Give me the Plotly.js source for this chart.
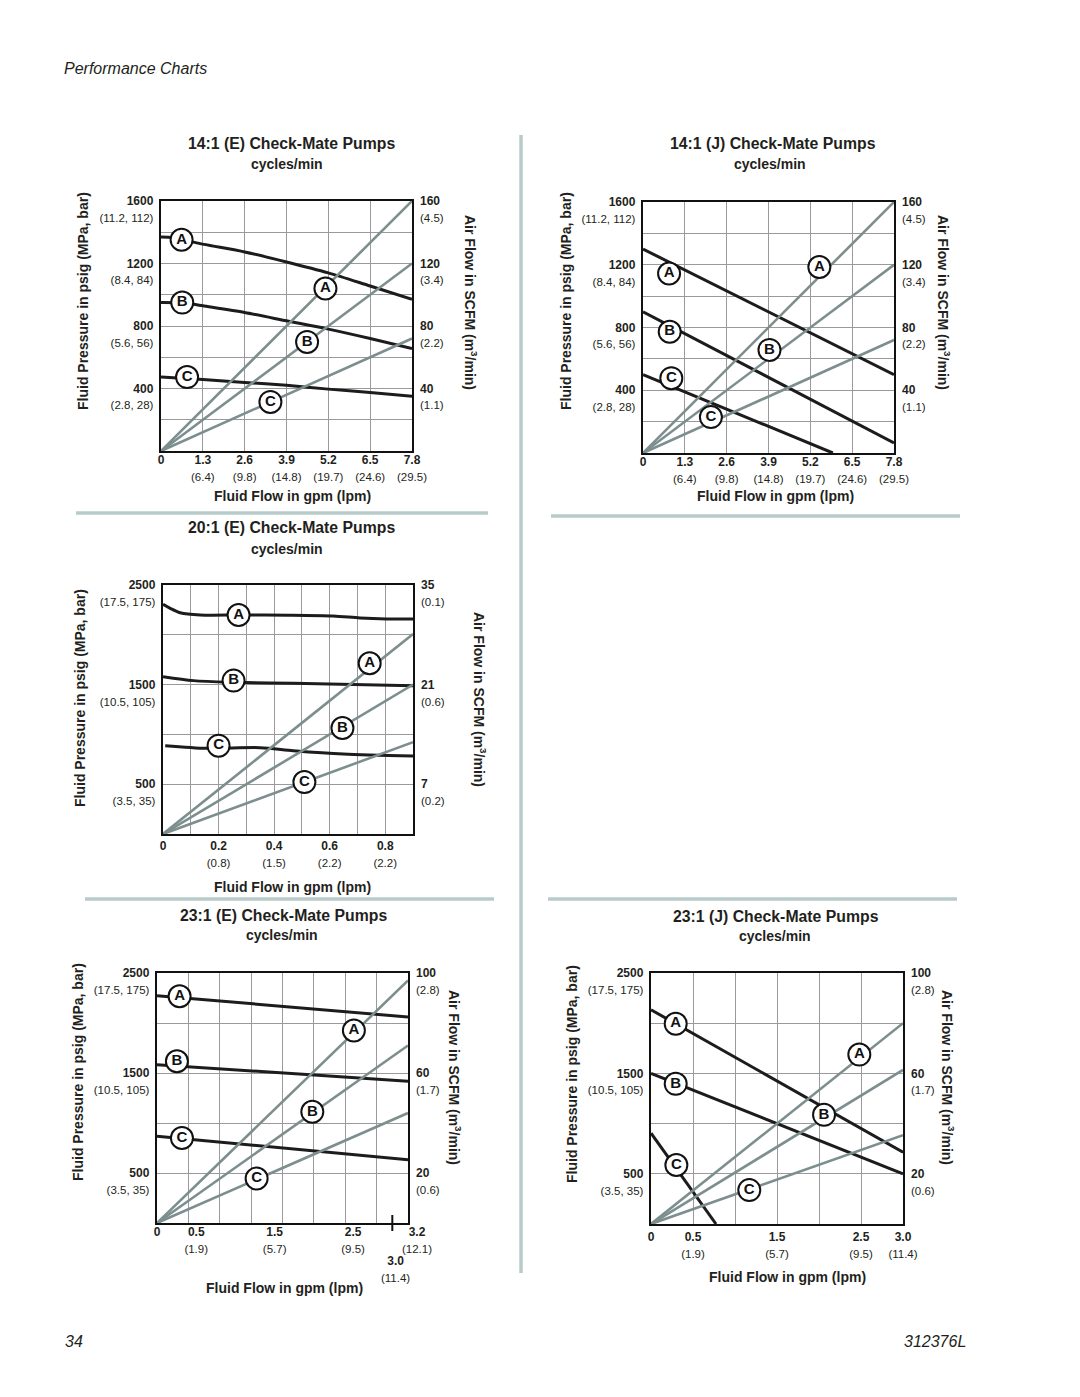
<!DOCTYPE html>
<html><head><meta charset="utf-8">
<script src="https://cdn.plot.ly/plotly-3.0.1.min.js"></script>
<style>html,body{margin:0;padding:0;background:#fff;}#chart{width:1080px;height:1397px;}</style>
</head><body><div id="chart"></div>
<script>
const W = 1080, H = 1397;
const FONT = '"Liberation Sans", Arial, Helvetica, sans-serif';
const INK = '#231f20';
const CURVE_COLOR = '#1c1c1c';
const AIR_COLOR = '#7d8e8e';
const GRID_COLOR = '#9a9a9a';
const DIVIDER = '#b8cbcb';
const LETTERS = ['A', 'B', 'C'];
const CYCLE_TICKS = [0, 30, 60];
const CYCLE_TEXT = ['0', '30', '60'];

// ===== Chart 1: 14:1 (E) =====
const e14_gpmTicks = [0, 1.3, 2.6, 3.9, 5.2, 6.5, 7.8];
const e14_gpmText = ['0', '1.3', '2.6', '3.9', '5.2', '6.5', '7.8'];
const e14_lpmText = ['', '(6.4)', '(9.8)', '(14.8)', '(19.7)', '(24.6)', '(29.5)'];
const e14_gpmGrid = [1.3, 2.6, 3.9, 5.2, 6.5];
const e14_psiTicks = [400, 800, 1200, 1600];
const e14_psiText = ['400', '800', '1200', '1600'];
const e14_psiMetric = ['(2.8, 28)', '(5.6, 56)', '(8.4, 84)', '(11.2, 112)'];
const e14_psiGrid = [200, 400, 600, 800, 1000, 1200, 1400];
const e14_airTicks = [40, 80, 120, 160];
const e14_airText = ['40', '80', '120', '160'];
const e14_airMetric = ['(1.1)', '(2.2)', '(3.4)', '(4.5)'];
const e14_A_gpm = [0, 0.65, 1.0, 2.6, 3.9, 5.2, 6.5, 7.8];
const e14_A_psi = [1370, 1360, 1337, 1274, 1210, 1140, 1056, 971];
const e14_B_gpm = [0, 0.65, 1.0, 1.3, 2.6, 3.9, 5.2, 6.5, 7.8];
const e14_B_psi = [950, 948, 939, 929, 886, 833, 780, 720, 656];
const e14_C_gpm = [0, 1.3, 2.6, 3.9, 5.2, 6.5, 7.8];
const e14_C_psi = [473, 458, 439, 420, 396, 375, 351];
const e14_air_gpm = [0, 7.8];
const e14_airA = [0, 160];
const e14_airB = [0, 120];
const e14_airC = [0, 72];
const e14_curveLbl_gpm = [0.64, 0.66, 0.81];
const e14_curveLbl_psi = [1352, 950, 473];
const e14_airLbl_gpm = [5.11, 4.54, 3.40];
const e14_airLbl_scfm = [104, 69.8, 31.4];

// ===== Chart 2: 14:1 (J) =====
const j14_A_gpm = [0, 7.8];
const j14_A_psi = [1300, 500];
const j14_B_gpm = [0, 7.8];
const j14_B_psi = [900, 64];
const j14_C_gpm = [0, 5.9];
const j14_C_psi = [500, 0];
const j14_air_gpm = [0, 7.8];
const j14_airA = [0, 160];
const j14_airB = [0, 120];
const j14_airC = [0, 72];
const j14_curveLbl_gpm = [0.81, 0.83, 0.88];
const j14_curveLbl_psi = [1144, 773, 477];
const j14_airLbl_gpm = [5.48, 3.93, 2.11];
const j14_airLbl_scfm = [118.6, 65.7, 22.9];

// ===== Chart 3: 20:1 (E) =====
const e20_gpmTicks = [0, 0.2, 0.4, 0.6, 0.8];
const e20_gpmText = ['0', '0.2', '0.4', '0.6', '0.8'];
const e20_lpmText = ['', '(0.8)', '(1.5)', '(2.2)', '(2.2)'];
const e20_gpmGrid = [0.1, 0.2, 0.3, 0.4, 0.5, 0.6, 0.7, 0.8];
const e20_psiTicks = [500, 1500, 2500];
const e20_psiText = ['500', '1500', '2500'];
const e20_psiMetric = ['(3.5, 35)', '(10.5, 105)', '(17.5, 175)'];
const e20_psiGrid = [500, 1000, 1500, 2000];
const e20_airTicks = [7, 21, 35];
const e20_airText = ['7', '21', '35'];
const e20_airMetric = ['(0.2)', '(0.6)', '(0.1)'];
const e20_A_gpm = [0, 0.026, 0.062, 0.134, 0.278, 0.45, 0.613, 0.709, 0.804, 0.9];
const e20_A_psi = [2306, 2266, 2222, 2199, 2199, 2197, 2189, 2169, 2159, 2159];
const e20_B_gpm = [0, 0.11, 0.254, 0.469, 0.9];
const e20_B_psi = [1580, 1540, 1523, 1513, 1489];
const e20_C_gpm = [0.008, 0.158, 0.349, 0.469, 0.649, 0.9];
const e20_C_psi = [887, 860, 867, 837, 803, 783];
const e20_air_gpm = [0, 0.9];
const e20_airA = [0, 28.1];
const e20_airB = [0, 21];
const e20_airC = [0, 12.9];
const e20_curveLbl_gpm = [0.272, 0.254, 0.2];
const e20_curveLbl_psi = [2199, 1540, 887];
const e20_airLbl_gpm = [0.744, 0.646, 0.509];
const e20_airLbl_scfm = [24.0, 14.9, 7.3];

// ===== Chart 4: 23:1 (E) =====
const e23_gpmTicks = [0, 0.5, 1.5, 2.5];
const e23_gpmText = ['0', '0.5', '1.5', '2.5'];
const e23_lpmText = ['', '(1.9)', '(5.7)', '(9.5)'];
const e23_gpmGrid = [0.4, 0.8, 1.2, 1.6, 2.0, 2.4, 2.8];
const e23_endTick = 3.2;
const e23_endText = '3.2';
const e23_endMetric = '(12.1)';
const e23_extraTick = 3.0;
const e23_extraText = '3.0';
const e23_extraMetric = '(11.4)';
const e23_psiTicks = [500, 1500, 2500];
const e23_psiText = ['500', '1500', '2500'];
const e23_psiMetric = ['(3.5, 35)', '(10.5, 105)', '(17.5, 175)'];
const e23_psiGrid = [500, 1000, 1500, 2000];
const e23_airTicks = [20, 60, 100];
const e23_airText = ['20', '60', '100'];
const e23_airMetric = ['(0.6)', '(1.7)', '(2.8)'];
const e23_A_gpm = [0, 3.2];
const e23_A_psi = [2273, 2060];
const e23_B_gpm = [0, 3.2];
const e23_B_psi = [1583, 1417];
const e23_C_gpm = [0, 3.2];
const e23_C_psi = [867, 633];
const e23_air_gpm = [0, 3.2];
const e23_airA = [0, 97];
const e23_airB = [0, 71];
const e23_airC = [0, 44];
const e23_curveLbl_gpm = [0.288, 0.254, 0.318];
const e23_curveLbl_psi = [2267, 1617, 850];
const e23_airLbl_gpm = [2.51, 1.98, 1.27];
const e23_airLbl_scfm = [77, 44.5, 17.8];

// ===== Chart 5: 23:1 (J) =====
const j23_gpmTicks = [0, 0.5, 1.5, 2.5, 3.0];
const j23_gpmText = ['0', '0.5', '1.5', '2.5', '3.0'];
const j23_lpmText = ['', '(1.9)', '(5.7)', '(9.5)', '(11.4)'];
const j23_gpmGrid = [0.5, 1.0, 1.5, 2.0, 2.5];
const j23_A_gpm = [0, 3.0];
const j23_A_psi = [2134, 715];
const j23_B_gpm = [0, 3.0];
const j23_B_psi = [1500, 500];
const j23_C_gpm = [0, 0.774];
const j23_C_psi = [904, 0];
const j23_air_gpm = [0, 3.0];
const j23_airA = [0, 80];
const j23_airB = [0, 61.4];
const j23_airC = [0, 35.4];
const j23_curveLbl_gpm = [0.294, 0.294, 0.302];
const j23_curveLbl_psi = [1995, 1396, 588];
const j23_airLbl_gpm = [2.48, 2.06, 1.17];
const j23_airLbl_scfm = [67.5, 43.5, 13.5];

// ===== chart assembly =====
const charts = [
  { title: '14:1 (E) Check-Mate Pumps', box: [161, 201, 412, 451], xRange: [0, 7.8], yRange: [0, 1600], rRange: [0, 160], xStand: -5,
    xT: e14_gpmTicks, xTx: e14_gpmText, xM: e14_lpmText, xG: e14_gpmGrid,
    yT: e14_psiTicks, yTx: e14_psiText, yM: e14_psiMetric, yG: e14_psiGrid,
    rT: e14_airTicks, rTx: e14_airText, rM: e14_airMetric,
    curves: [[e14_A_gpm, e14_A_psi], [e14_B_gpm, e14_B_psi], [e14_C_gpm, e14_C_psi]], shape: 'spline',
    airs: [[e14_air_gpm, e14_airA], [e14_air_gpm, e14_airB], [e14_air_gpm, e14_airC]],
    cl: [e14_curveLbl_gpm, e14_curveLbl_psi], al: [e14_airLbl_gpm, e14_airLbl_scfm],
    pos: { title: [291, 143], cyc: [287, 164], left: [83, 301], right: [471, 302], bottom: [292, 496] } },
  { title: '14:1 (J) Check-Mate Pumps', box: [643, 202, 894, 453], xRange: [0, 7.8], yRange: [0, 1600], rRange: [0, 160], xStand: -5,
    xT: e14_gpmTicks, xTx: e14_gpmText, xM: e14_lpmText, xG: e14_gpmGrid,
    yT: e14_psiTicks, yTx: e14_psiText, yM: e14_psiMetric, yG: e14_psiGrid,
    rT: e14_airTicks, rTx: e14_airText, rM: e14_airMetric,
    curves: [[j14_A_gpm, j14_A_psi], [j14_B_gpm, j14_B_psi], [j14_C_gpm, j14_C_psi]], shape: 'linear',
    airs: [[j14_air_gpm, j14_airA], [j14_air_gpm, j14_airB], [j14_air_gpm, j14_airC]],
    cl: [j14_curveLbl_gpm, j14_curveLbl_psi], al: [j14_airLbl_gpm, j14_airLbl_scfm],
    pos: { title: [773, 143], cyc: [770, 164], left: [566, 301], right: [944, 302], bottom: [775, 496] } },
  { title: '20:1 (E) Check-Mate Pumps', box: [163, 585, 413, 834], xRange: [0, 0.9], yRange: [0, 2500], rRange: [0, 35], xStand: -2,
    xT: e20_gpmTicks, xTx: e20_gpmText, xM: e20_lpmText, xG: e20_gpmGrid,
    yT: e20_psiTicks, yTx: e20_psiText, yM: e20_psiMetric, yG: e20_psiGrid,
    rT: e20_airTicks, rTx: e20_airText, rM: e20_airMetric,
    curves: [[e20_A_gpm, e20_A_psi], [e20_B_gpm, e20_B_psi], [e20_C_gpm, e20_C_psi]], shape: 'spline',
    airs: [[e20_air_gpm, e20_airA], [e20_air_gpm, e20_airB], [e20_air_gpm, e20_airC]],
    cl: [e20_curveLbl_gpm, e20_curveLbl_psi], al: [e20_airLbl_gpm, e20_airLbl_scfm],
    pos: { title: [291, 527], cyc: [287, 549], left: [80, 698], right: [480, 699], bottom: [292, 887] } },
  { title: '23:1 (E) Check-Mate Pumps', box: [157, 973, 408, 1223], xRange: [0, 3.2], yRange: [0, 2500], rRange: [0, 100], xStand: -5,
    xT: e23_gpmTicks, xTx: e23_gpmText, xM: e23_lpmText, xG: e23_gpmGrid,
    yT: e23_psiTicks, yTx: e23_psiText, yM: e23_psiMetric, yG: e23_psiGrid,
    rT: e23_airTicks, rTx: e23_airText, rM: e23_airMetric,
    curves: [[e23_A_gpm, e23_A_psi], [e23_B_gpm, e23_B_psi], [e23_C_gpm, e23_C_psi]], shape: 'linear',
    airs: [[e23_air_gpm, e23_airA], [e23_air_gpm, e23_airB], [e23_air_gpm, e23_airC]],
    cl: [e23_curveLbl_gpm, e23_curveLbl_psi], al: [e23_airLbl_gpm, e23_airLbl_scfm],
    pos: { title: [283, 915], cyc: [282, 935], left: [78, 1072], right: [455, 1077], bottom: [284, 1288] } },
  { title: '23:1 (J) Check-Mate Pumps', box: [651, 973, 903, 1224], xRange: [0, 3.0], yRange: [0, 2500], rRange: [0, 100], xStand: -1,
    xT: j23_gpmTicks, xTx: j23_gpmText, xM: j23_lpmText, xG: j23_gpmGrid,
    yT: e23_psiTicks, yTx: e23_psiText, yM: e23_psiMetric, yG: e23_psiGrid,
    rT: e23_airTicks, rTx: e23_airText, rM: e23_airMetric,
    curves: [[j23_A_gpm, j23_A_psi], [j23_B_gpm, j23_B_psi], [j23_C_gpm, j23_C_psi]], shape: 'linear',
    airs: [[j23_air_gpm, j23_airA], [j23_air_gpm, j23_airB], [j23_air_gpm, j23_airC]],
    cl: [j23_curveLbl_gpm, j23_curveLbl_psi], al: [j23_airLbl_gpm, j23_airLbl_scfm],
    pos: { title: [776, 916], cyc: [775, 936], left: [572, 1074], right: [948, 1077], bottom: [787, 1277] } }
];

const px = v => v / W;
const py = v => 1 - v / H;
const axKey = (p, i) => p + 'axis' + (i === 1 ? '' : i);
const axRef = (p, i) => p + (i === 1 ? '' : i);
const twoLine = (a, b) => '<span style="font-size:12px"><b>' + a + '</b></span>' +
  (b ? '<br><span style="font-size:11.5px">' + b + '</span>' : '');
const tickFont = { family: FONT, size: 13, color: INK };

const traces = [];
const annotations = [];
const shapes = [];
const layout = {
  width: W, height: H, margin: { l: 0, r: 0, t: 0, b: 0 }, autosize: false,
  paper_bgcolor: '#fff', plot_bgcolor: 'rgba(0,0,0,0)', showlegend: false, hovermode: false,
  font: { family: FONT, color: INK }
};

function note(text, x, y, size, extra) {
  annotations.push(Object.assign({ text: text, xref: 'paper', yref: 'paper', x: px(x), y: py(y),
    xanchor: 'center', yanchor: 'middle', showarrow: false, font: { family: FONT, size: size, color: INK } }, extra || {}));
}

charts.forEach((c, k) => {
  const bi = 2 * k + 1, ti = 2 * k + 2;
  const xb = axRef('x', bi), yl = axRef('y', bi), yr = axRef('y', ti);
  const [l, t, r, b] = c.box;
  const xd = [px(l), px(r)], yd = [py(b), py(t)];
  const common = { fixedrange: true, zeroline: false, ticks: '', tickfont: tickFont, tickmode: 'array' };
  layout[axKey('x', bi)] = Object.assign({}, common, {
    domain: xd, anchor: yl, range: c.xRange, showline: true, mirror: true, linecolor: '#111', linewidth: 2,
    showgrid: false, tickvals: c.xT, ticktext: c.xT.map((v, i) => twoLine(c.xTx[i], c.xM[i])), ticklabelstandoff: c.xStand,
    minor: { tickmode: 'array', tickvals: c.xG, showgrid: true, gridcolor: GRID_COLOR, gridwidth: 1, ticks: '' }
  });
  layout[axKey('x', ti)] = Object.assign({}, common, {
    domain: xd, anchor: yl, overlaying: xb, side: 'top', range: [0, 60], showline: false, showgrid: false,
    tickvals: CYCLE_TICKS, ticktext: CYCLE_TEXT.map(s => '<b>' + s + '</b>'), ticklabelstandoff: 5,
    tickfont: { family: FONT, size: 12, color: INK }
  });
  layout[axKey('y', bi)] = Object.assign({}, common, {
    domain: yd, anchor: xb, range: c.yRange, showline: true, mirror: true, linecolor: '#111', linewidth: 2,
    showgrid: false, tickvals: c.yT, ticktext: c.yT.map((v, i) => twoLine(c.yTx[i], c.yM[i])),
    ticklabelshift: 8, ticklabelstandoff: 3,
    minor: { tickmode: 'array', tickvals: c.yG, showgrid: true, gridcolor: GRID_COLOR, gridwidth: 1, ticks: '' }
  });
  layout[axKey('y', ti)] = Object.assign({}, common, {
    domain: yd, anchor: xb, overlaying: yl, side: 'right', range: c.rRange, showline: false, showgrid: false,
    tickvals: c.rT, ticktext: c.rT.map((v, i) => twoLine(c.rTx[i], c.rM[i])), ticklabelshift: 8, ticklabelstandoff: 7
  });

  c.airs.forEach(a => traces.push({ type: 'scatter', mode: 'lines', x: a[0], y: a[1], xaxis: xb, yaxis: yr,
    line: { color: AIR_COLOR, width: 2.6 } }));
  c.curves.forEach(cv => traces.push({ type: 'scatter', mode: 'lines', x: cv[0], y: cv[1], xaxis: xb, yaxis: yl,
    line: { color: CURVE_COLOR, width: 3, shape: c.shape, smoothing: 0.8 } }));
  const lbl = (xy, yax) => ({ type: 'scatter', mode: 'markers+text', x: xy[0], y: xy[1], xaxis: xb, yaxis: yax,
    text: LETTERS.map(s => '<b>' + s + '</b>'), textposition: 'middle center', cliponaxis: false,
    textfont: { family: FONT, size: 15, color: '#111' },
    marker: { size: 22, color: '#fff', line: { color: '#111', width: 2 } } });
  traces.push(lbl(c.al, yr));
  traces.push(lbl(c.cl, yl));

  const p = c.pos;
  note('<b>' + c.title + '</b>', p.title[0], p.title[1], 15.8);
  note('<b>cycles/min</b>', p.cyc[0], p.cyc[1], 14);
  note('<b>Fluid Pressure in psig (MPa, bar)</b>', p.left[0], p.left[1], 14, { textangle: -90 });
  note('<b>Air Flow in SCFM (m<sup>3</sup>/min)</b>', p.right[0], p.right[1], 14, { textangle: 90 });
  note('<b>Fluid Flow in gpm (lpm)</b>', p.bottom[0], p.bottom[1], 14);
});

// 23:1 (E): end-of-axis label and the extra 3.0 gpm marker below the axis
annotations.push({ xref: 'x7', yref: 'paper', x: e23_endTick, xshift: 9, y: py(1240), showarrow: false,
  xanchor: 'center', yanchor: 'middle', text: twoLine(e23_endText, e23_endMetric), font: tickFont });
shapes.push({ type: 'line', xref: 'x7', yref: 'paper', x0: e23_extraTick, x1: e23_extraTick,
  y0: py(1215), y1: py(1231), line: { color: '#111', width: 2 } });
annotations.push({ xref: 'x7', yref: 'paper', x: e23_extraTick, xshift: 3, y: py(1269), showarrow: false,
  xanchor: 'center', yanchor: 'middle', text: twoLine(e23_extraText, e23_extraMetric), font: tickFont });

// page furniture
note('<i>Performance Charts</i>', 62, 68, 16, { xanchor: 'left' });
note('<i>34</i>', 63, 1341, 16, { xanchor: 'left' });
note('<i>312376L</i>', 968, 1341, 16, { xanchor: 'right' });
const divider = (x0, y0, x1, y1) => shapes.push({ type: 'line', xref: 'paper', yref: 'paper',
  x0: px(x0), x1: px(x1), y0: py(y0), y1: py(y1), line: { color: DIVIDER, width: 3.5 } });
divider(521, 135, 521, 1273);
divider(76, 513, 488, 513);
divider(551, 516, 960, 516);
divider(85, 899, 494, 899);
divider(548, 899, 957, 899);

layout.annotations = annotations;
layout.shapes = shapes;
Plotly.newPlot('chart', traces, layout, { staticPlot: true, displayModeBar: false });
</script></body></html>
